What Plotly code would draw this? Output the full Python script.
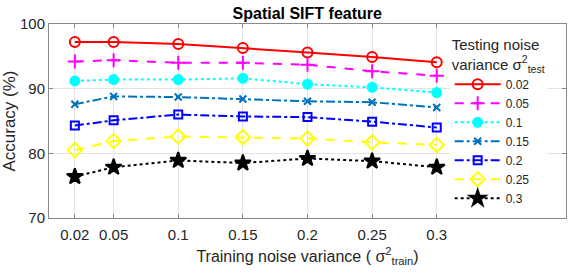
import plotly.graph_objects as go

train_var = [0.02, 0.05, 0.1, 0.15, 0.2, 0.25, 0.3]
x_tick_labels = ["0.02", "0.05", "0.1", "0.15", "0.2", "0.25", "0.3"]
test_labels = ["0.02", "0.05", "0.1", "0.15", "0.2", "0.25", "0.3"]

acc_002 = [97.2, 97.2, 96.9, 96.3, 95.6, 94.9, 94.1]
acc_005 = [94.2, 94.4, 94.0, 94.0, 93.7, 92.7, 92.0]
acc_010 = [91.2, 91.4, 91.4, 91.6, 90.7, 90.2, 89.4]
acc_015 = [87.6, 88.8, 88.7, 88.4, 88.05, 87.9, 87.1]
acc_020 = [84.3, 85.1, 86.0, 85.7, 85.6, 84.9, 84.0]
acc_025 = [80.5, 81.9, 82.6, 82.5, 82.3, 81.7, 81.3]
acc_030 = [76.4, 77.85, 78.9, 78.5, 79.2, 78.8, 77.85]

series = [acc_002, acc_005, acc_010, acc_015, acc_020, acc_025, acc_030]
styles = [
    dict(color="#FF0000", dash="solid", symbol="circle-open", size=10),
    dict(color="#FF00FF", dash="dash", symbol="cross-thin-open", size=10),
    dict(color="#00FFFF", dash="dot", symbol="circle", size=9),
    dict(color="#0072BD", dash="dashdot", symbol="x-thin-open", size=7),
    dict(color="#0000FF", dash="dashdot", symbol="square-open", size=8),
    dict(color="#FFFF00", dash="dash", symbol="diamond-open", size=11),
    dict(color="#000000", dash="dot", symbol="star", size=12),
]

fig = go.Figure()
for lab, ys, st in zip(test_labels, series, styles):
    fig.add_trace(go.Scatter(
        x=train_var, y=ys, name=lab, mode="lines+markers",
        line=dict(color=st["color"], dash=st["dash"], width=2),
        marker=dict(symbol=st["symbol"], size=st["size"], color=st["color"],
                    line=dict(color=st["color"], width=2)),
    ))

font_family = "Liberation Sans, Arial, sans-serif"
axis_col = "#8a8a8a"
fig.update_layout(
    width=570, height=276,
    margin=dict(l=49, r=4, t=24, b=58),
    paper_bgcolor="white", plot_bgcolor="white",
    font=dict(family=font_family, size=15, color="#262626"),
    title=dict(text="<b>Spatial SIFT feature</b>", x=0.539, xanchor="center",
               y=0.953, yanchor="middle", font=dict(size=16, color="black")),
    xaxis=dict(range=[0, 0.4], tickvals=train_var, ticktext=x_tick_labels,
               showgrid=True, gridcolor="#E3E3E3", gridwidth=1,
               showline=True, linecolor=axis_col, linewidth=1, mirror="ticks",
               ticks="inside", ticklen=4, tickcolor=axis_col, zeroline=False,
               tickfont=dict(size=15), ticklabelstandoff=3,
               title=dict(text="Training noise variance ( σ<sup>2</sup><sub>train</sub>)",
                          font=dict(size=16), standoff=8)),
    yaxis=dict(range=[70, 100], tickvals=[70, 80, 90, 100],
               showgrid=True, gridcolor="#E3E3E3", gridwidth=1,
               showline=True, linecolor=axis_col, linewidth=1, mirror="ticks",
               ticks="inside", ticklen=4, tickcolor=axis_col, zeroline=False,
               tickfont=dict(size=15),
               title=dict(text="Accuracy (%)", font=dict(size=17), standoff=4)),
    legend=dict(x=0.775, xanchor="left", y=0.965, yanchor="top",
                bgcolor="white", borderwidth=0, itemwidth=46,
                font=dict(size=12, color="#262626"), tracegroupgap=0,
                title=dict(text="Testing noise<br>variance σ<sup>2</sup><sub>test</sub>",
                           side="top", font=dict(size=15))),
    showlegend=True,
)

fig.write_html("out.html")
